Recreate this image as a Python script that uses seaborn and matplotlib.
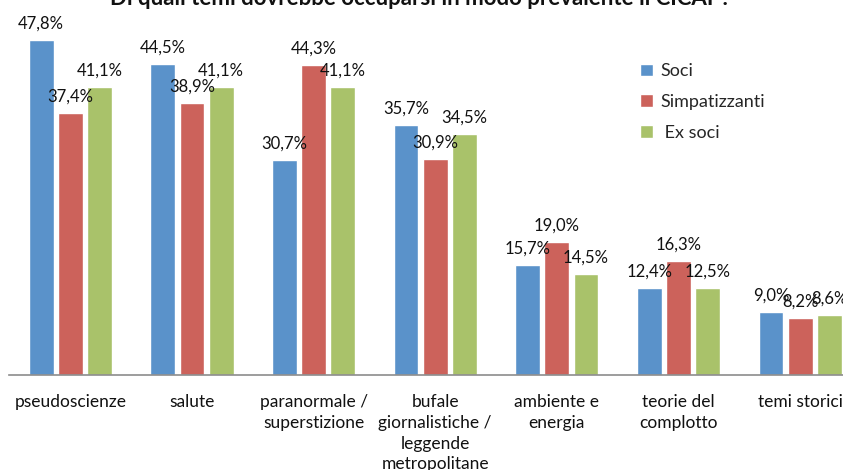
import matplotlib
matplotlib.use("Agg")
import matplotlib.pyplot as plt
import seaborn as sns
import pandas as pd

categories = ["pseudoscienze", "salute", "paranormale /\nsuperstizione",
              "bufale\ngiornalistiche /\nleggende\nmetropolitane",
              "ambiente e\nenergia", "teorie del\ncomplotto", "temi storici"]
series_names = ["Soci", "Simpatizzanti", " Ex soci"]
soci = [47.8, 44.5, 30.7, 35.7, 15.7, 12.4, 9.0]
simpatizzanti = [37.4, 38.9, 44.3, 30.9, 19.0, 16.3, 8.2]
ex_soci = [41.1, 41.1, 41.1, 34.5, 14.5, 12.5, 8.6]
colors = ["#5A92CA", "#CC625B", "#A9C26A"]
title = "Di quali temi dovrebbe occuparsi in modo prevalente il CICAP?"

rows = []
for name, vals in zip(series_names, [soci, simpatizzanti, ex_soci]):
    for c, v in zip(categories, vals):
        rows.append({"tema": c, "gruppo": name, "valore": v})
df = pd.DataFrame(rows)

sns.set_theme(style="white")
plt.rcParams['font.family'] = ['Lato', 'DejaVu Sans']

fig = plt.figure(figsize=(8.43, 4.70), dpi=100)
W, H = 843, 470
left, right, base, top = 9.5, 861, 375, 25
ax = fig.add_axes([left / W, (H - base) / H, (right - left) / W, (base - top) / H])

sns.barplot(data=df, x="tema", y="valore", hue="gruppo", order=categories,
            hue_order=series_names, palette=colors, width=0.72, gap=0.15,
            saturation=1, ax=ax)

ax.set_ylim(0, 50)
ax.set_xlim(-0.5, len(categories) - 0.5)
ax.set_xlabel("")
ax.set_ylabel("")
ax.set_yticks([])
for s in ["top", "left", "right"]:
    ax.spines[s].set_visible(False)
ax.spines["bottom"].set_color("#8c8c8c")
ax.spines["bottom"].set_linewidth(1.2)
ax.tick_params(axis="x", length=0, pad=14, labelsize=12.5, colors="#111111")
plt.setp(ax.get_xticklabels(), linespacing=1.35)

for cont in ax.containers:
    vals = [b.get_height() for b in cont]
    ax.bar_label(cont, labels=[f"{v:.1f}%".replace(".", ",") for v in vals],
                 padding=6, fontsize=12, color="#111111")

handles, labels = ax.get_legend_handles_labels()
leg = ax.legend(handles, labels, loc="upper left",
                bbox_to_anchor=(624 / W, (H - 47) / H), bbox_transform=fig.transFigure,
                frameon=False, fontsize=13, handlelength=0.7, handleheight=0.7,
                handletextpad=0.4, labelspacing=0.82)

fig.text(420 / W, (H - 5) / H, title, ha="center", va="baseline",
         fontsize=16, fontweight="bold", color="#111111")

fig.savefig("out.png", dpi=100)
